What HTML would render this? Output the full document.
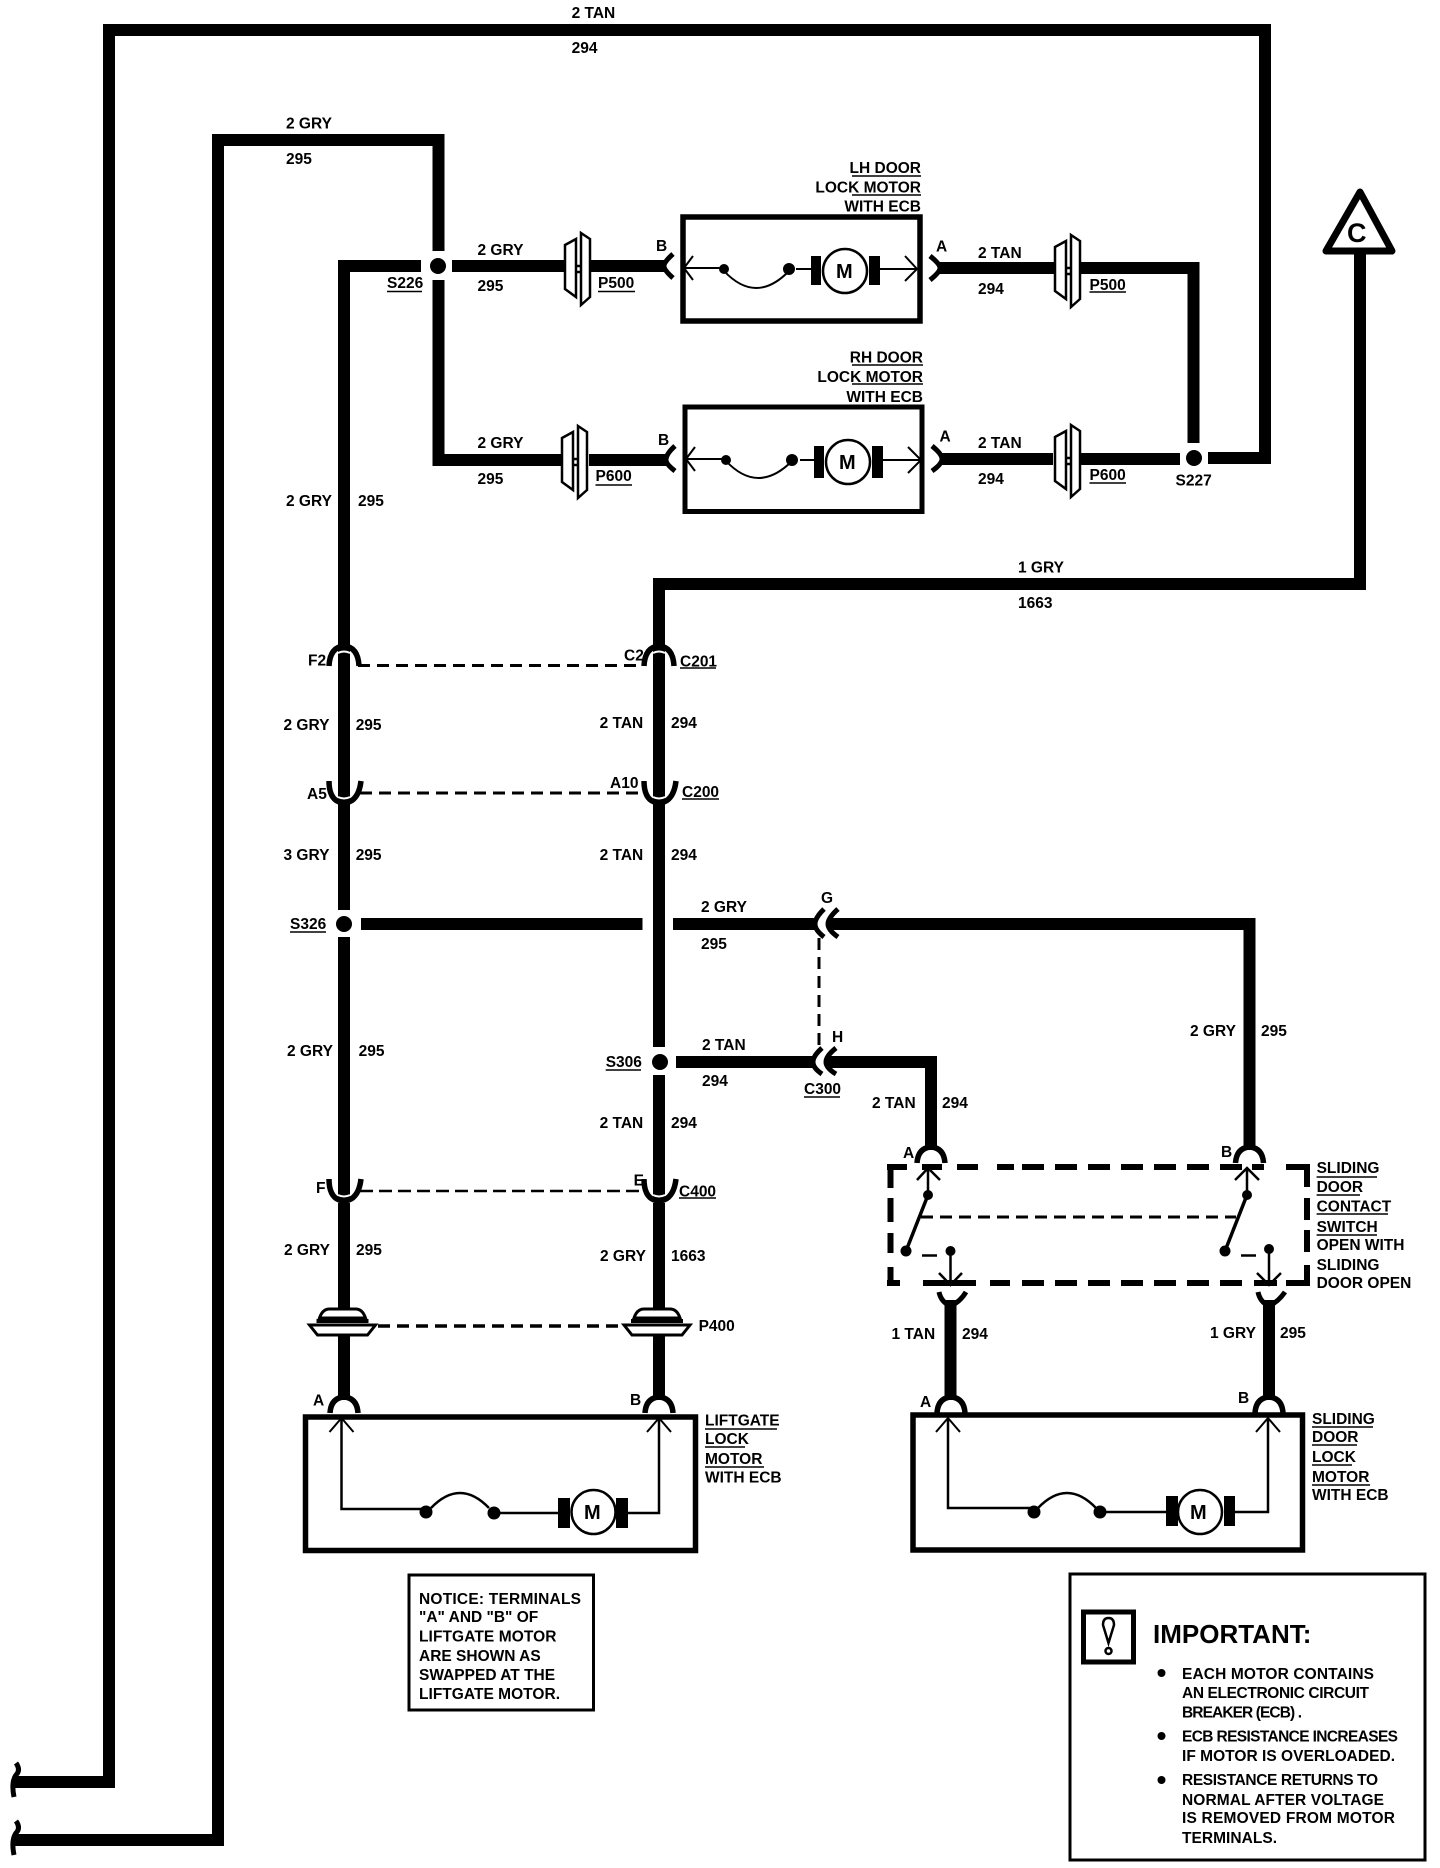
<!DOCTYPE html>
<html><head><meta charset="utf-8"><title>Door lock wiring diagram</title>
<style>html,body{margin:0;padding:0;background:#fff}svg{display:block}text{font-family:"Liberation Sans",sans-serif;font-weight:bold;font-size:15.5px;fill:#000}</style>
</head><body>
<svg xmlns="http://www.w3.org/2000/svg" width="1440" height="1868" viewBox="0 0 1440 1868">
<defs>
<g id="pc" fill="#fff" stroke="#000" stroke-width="2.5"><path d="M0,-24 L11,-30 V28 L0,20Z"/><path d="M16,-36 L25,-30 V28 L16,36Z"/><path d="M11,-3 H16 M11,3H16" fill="none"/></g>
<g id="cd" fill="none" stroke="#000" stroke-width="5.5"><path d="M-14,19 Q-13,4 0,3 Q13,4 14,19"/></g>
<g id="cf" fill="none"><path d="M-15,22 Q-14,3 0,2 Q14,3 15,22" stroke="#000" stroke-width="5.5"/><path d="M-6,9 Q0,6 6,9" stroke="#fff" stroke-width="2"/></g>
<g id="cu" fill="none"><path d="M-15,-3 Q-15,14 -5,18 Q0,20 5,18 Q15,14 17,-3" stroke="#000" stroke-width="5.5"/><path d="M-6,13 Q0,16 6,13" stroke="#fff" stroke-width="2"/></g>
<g id="gr" fill="#fff" stroke="#000" stroke-width="3"><path d="M-23,13 Q-20,4 -13,4 H13 Q20,4 23,13Z"/><path d="M-33,20 H33 L25,30 H-25Z"/><path d="M-26,16 H26" stroke-width="4"/></g>
<g id="ar" fill="none" stroke="#000" stroke-width="2"><path d="M-12,14 L0,0 L12,14 M0,0 V14"/></g>
</defs>
<rect width="1440" height="1868" fill="#fff"/>

<!-- wires -->
<g fill="none" stroke="#000" stroke-width="12" stroke-linejoin="miter">
<path d="M13,1782 H109 V30 H1265 V458 H1208"/>
<path d="M13,1840 H218 V140 H438.5 V251"/>
<path d="M438.5,280 V460 H562"/>
<path d="M421,266 H344 V660"/>
<path d="M452,266 H565"/>
<path d="M590,266 H664"/>
<path d="M589,460 H666"/>
<path d="M938,268 H1055"/>
<path d="M1081,268 H1193.5 V443"/>
<path d="M940,459 H1053"/>
<path d="M1081,459 H1180"/>
<path d="M344,660 V804"/><path d="M344,804 V910"/><path d="M344,937 V1202"/><path d="M344,1203 V1308"/><path d="M344,1336 V1400"/>
<path d="M659,1400 V1336"/><path d="M659,1308 V1203"/><path d="M659,1202 V1075"/><path d="M659,1047 V804"/><path d="M659,804 V660"/>
<path d="M659,660 V584 H1360 V253"/>
<path d="M361,924 H642.5"/><path d="M673,924 H816"/>
<path d="M830,924 H1249.5 V1150"/>
<path d="M676,1062 H814"/>
<path d="M827,1062 H931 V1150"/>
<path d="M950.5,1300 V1400"/><path d="M1269,1300 V1400"/>
</g>

<!-- end connectors bottom-left -->
<g fill="none" stroke="#000" stroke-width="5">
<path d="M16,1763 Q21,1770 16,1775 Q11,1782 14,1797"/>
<path d="M16,1821 Q21,1828 16,1833 Q11,1840 14,1855"/>
</g>

<!-- splices -->
<g fill="#000">
<circle cx="438" cy="266" r="8"/><circle cx="1194" cy="458" r="8"/><circle cx="344" cy="924" r="8"/><circle cx="660" cy="1062" r="8"/>
</g>

<!-- P connectors -->
<use href="#pc" x="565" y="269"/><use href="#pc" x="562" y="462"/><use href="#pc" x="1055" y="271"/><use href="#pc" x="1055" y="461"/>

<!-- side connectors B/A -->
<g fill="none" stroke="#000" stroke-width="5">
<path d="M673,254 Q664,262 664,266 Q664,270 673,278"/>
<path d="M675,446 Q666,454 666,460 Q666,464 675,471"/>
<path d="M930,256 Q940,264 940,268 Q940,272 930,280"/>
<path d="M932,446 Q942,454 942,459 Q942,464 932,471"/>
<path d="M824,909 Q815,918 815,924 Q815,930 824,937"/>
<path d="M838,909 Q828,918 828,924 Q828,930 838,937"/>
<path d="M822,1048 Q813,1056 813,1062 Q813,1068 822,1074"/>
<path d="M836,1048 Q826,1056 826,1062 Q826,1068 836,1074"/>
</g>

<!-- top and bottom connectors -->
<use href="#cf" x="344" y="644"/><use href="#cf" x="659" y="644"/>
<use href="#cu" x="344" y="784"/><use href="#cu" x="659" y="784"/><use href="#cu" x="344" y="1182"/><use href="#cu" x="659" y="1182"/>
<use href="#cd" x="344" y="1394"/><use href="#cd" x="659" y="1394"/><use href="#cd" x="951" y="1394"/><use href="#cd" x="1269" y="1394"/>
<use href="#cd" x="931" y="1144"/><use href="#cd" x="1249.5" y="1144"/>
<g fill="none" stroke="#000" stroke-width="5">
<path d="M939,1292 Q941,1302 950.5,1306 Q960,1302 966,1292"/>
<path d="M1258,1292 Q1260,1302 1269,1306 Q1278,1302 1285,1292"/>
</g>

<!-- dashed links -->
<g fill="none" stroke="#000" stroke-width="3" stroke-dasharray="12 7">
<path d="M358,665.5 H637"/><path d="M360,793 H648"/><path d="M819,938 V1047"/><path d="M921,1217 H1236"/>
</g>
<path d="M360,1191 H646" fill="none" stroke="#000" stroke-width="2.5" stroke-dasharray="13 6"/>
<path d="M378,1326 H623" fill="none" stroke="#000" stroke-width="3.5" stroke-dasharray="12 7"/>
<use href="#gr" x="342.5" y="1305"/><use href="#gr" x="657" y="1305"/>

<!-- triangle C -->
<path d="M1360,192 L1392,251 H1326Z" fill="#fff" stroke="#000" stroke-width="7" stroke-linejoin="round"/>
<text x="1347" y="242" style="font-size:27px">C</text>

<!-- LH motor -->
<g fill="none" stroke="#000">
<rect x="683" y="217" width="237" height="104" stroke-width="5.5"/>
<rect x="685" y="407" width="237" height="104.5" stroke-width="5"/>
<path d="M684,268 H724 M693,256 L684,268 L693,280 M796,269 H811 M880,269 H917 M905,256 L917,269 L905,281" stroke-width="2"/>
<path d="M724,271 Q756,305 789,271" stroke-width="2"/>
<circle cx="845" cy="271" r="22" stroke-width="2.5"/>
<path d="M686,459 H726 M695,447 L686,459 L695,471 M800,460 H814 M883,460 H921 M908,447 L921,460 L908,473" stroke-width="2"/>
<path d="M726,461 Q758,495 792,461" stroke-width="2"/>
<circle cx="848" cy="462" r="22" stroke-width="2.5"/>
</g>
<g fill="#000">
<circle cx="724" cy="269" r="5"/><circle cx="789" cy="269" r="6"/>
<rect x="811" y="256" width="10" height="29"/><rect x="869" y="256" width="11" height="29"/>
<circle cx="726" cy="460" r="5"/><circle cx="792" cy="460" r="6"/>
<rect x="814" y="446" width="10" height="32"/><rect x="872" y="446" width="11" height="32"/>
</g>
<text x="836" y="278" style="font-size:20px">M</text>
<text x="839" y="469" style="font-size:20px">M</text>

<!-- liftgate motor -->
<g fill="none" stroke="#000">
<rect x="305.5" y="1417" width="390" height="133.5" stroke-width="5.5"/>
<rect x="913" y="1415" width="389.5" height="135" stroke-width="5.5"/>
<path d="M341.5,1418 V1509 H426 M494,1513 H558 M628,1513 H659 V1418" stroke-width="2.5"/>
<path d="M431,1508 Q460,1478 489,1508" stroke-width="2.5"/>
<path d="M948,1418 V1508 H1034 M1100,1512 H1166 M1235,1512 H1268 V1418" stroke-width="2.5"/>
<path d="M1038,1508 Q1067,1478 1096,1508" stroke-width="2.5"/>
<circle cx="593.5" cy="1512" r="22" stroke-width="2.5"/>
<circle cx="1200" cy="1512" r="22" stroke-width="2.5"/>
</g>
<use href="#ar" x="341.5" y="1418"/><use href="#ar" x="659" y="1418"/><use href="#ar" x="948" y="1418"/><use href="#ar" x="1268" y="1418"/>
<g fill="#000">
<circle cx="426" cy="1512" r="6.5"/><circle cx="494" cy="1513" r="6.5"/><circle cx="1034" cy="1512" r="6.5"/><circle cx="1100" cy="1512" r="6.5"/>
<rect x="558" y="1498" width="12" height="30"/><rect x="616" y="1498" width="12" height="30"/>
<rect x="1166" y="1496" width="12" height="30"/><rect x="1224" y="1496" width="11" height="30"/>
</g>
<text x="584" y="1519" style="font-size:20px">M</text>
<text x="1190" y="1519" style="font-size:20px">M</text>

<!-- dashed switch box -->
<g fill="none" stroke="#000" stroke-width="6">
<path d="M887,1167 H907 M922,1167 H942 M957,1167 H978"/>
<path d="M1022,1167 H1044 M1055,1167 H1077 M1088,1167 H1110 M1121,1167 H1143 M1154,1167 H1176 M1187,1167 H1209 M1220,1167 H1242 M1252,1167 H1264 M1286,1167 H1310"/>
<path d="M997,1167 H1014"/>
<path d="M890.5,1164 V1188 M890.5,1198 V1222 M890.5,1233 V1253 M890.5,1267 V1286"/>
<path d="M1307,1164 V1187 M1307,1198 V1220 M1307,1230 V1252 M1307,1265 V1286"/>
<path d="M887,1283 H900 M923,1283 H976 M990,1283 H1010 M1022,1283 H1044 M1055,1283 H1077 M1088,1283 H1110 M1121,1283 H1143 M1154,1283 H1176 M1187,1283 H1209 M1220,1283 H1242 M1254,1283 H1277 M1286,1283 H1310"/>
</g>
<!-- switches -->
<g fill="none" stroke="#000" stroke-width="2.5">
<path d="M928,1170 V1195 M917,1180 L928,1168 L940,1180"/>
<path d="M928,1195 L906,1251" stroke-width="3.5"/>
<path d="M950.5,1251 V1285 M939,1273 L950.5,1285 L962,1273"/>
<path d="M922,1255.5 H937"/>
<path d="M1247,1170 V1195 M1235,1180 L1247,1168 L1259,1180"/>
<path d="M1247,1195 L1225,1251" stroke-width="3.5"/>
<path d="M1269,1249 V1285 M1257,1273 L1269,1285 L1281,1273"/>
<path d="M1241,1255.5 H1256"/>
</g>
<g fill="#000">
<circle cx="928" cy="1195" r="5"/><circle cx="906" cy="1251" r="5.5"/><circle cx="950.5" cy="1251" r="5"/>
<circle cx="1247" cy="1195" r="5"/><circle cx="1225" cy="1251" r="5.5"/><circle cx="1269" cy="1249" r="5"/>
</g>

<!-- notice and important boxes -->
<rect x="409" y="1575" width="184.5" height="135" fill="none" stroke="#000" stroke-width="3"/>
<rect x="1070" y="1574" width="355" height="286" fill="none" stroke="#000" stroke-width="3"/>
<rect x="1083.5" y="1612" width="50" height="50" fill="none" stroke="#000" stroke-width="5"/>
<path d="M1108.5,1643 L1103,1625 Q1103,1618 1108.5,1618 Q1114,1618 1114,1625Z" fill="none" stroke="#000" stroke-width="2.5"/>
<circle cx="1108.5" cy="1651" r="3" fill="none" stroke="#000" stroke-width="2.5"/>
<g fill="#000"><circle cx="1161.5" cy="1673" r="4"/><circle cx="1161.5" cy="1736" r="4"/><circle cx="1161.5" cy="1780" r="4"/></g>

<!-- underlines -->
<path fill="none" stroke="#000" stroke-width="1.5" d="M387,291.5H422 M598,291.5H635 M595.5,485H632 M852,176H921 M852,195H921 M852,365H923 M852,384H923 M1089.5,292H1126 M1089.5,483H1126 M680,668H716 M682,799H719 M290,932H326 M605.7,1070H641 M804,1097H840 M679,1198H716 M1316.6,1177H1377 M1316.6,1195H1360 M1316.6,1214H1388 M1316.6,1235H1377 M705,1429H777 M705,1447H745 M705,1467H764 M1312,1427H1373 M1312,1445H1357 M1312,1465H1352 M1312,1485H1370"/>

<!-- labels -->
<text x="571.6" y="18">2 TAN</text><text x="571.6" y="53">294</text>
<text x="286" y="128.5">2 GRY</text><text x="286" y="164">295</text>
<text x="477.5" y="255">2 GRY</text><text x="477.5" y="291">295</text>
<text x="387" y="288">S226</text><text x="598" y="288">P500</text>
<text x="477.5" y="448">2 GRY</text><text x="477.5" y="484">295</text>
<text x="595.5" y="481">P600</text>
<text x="656" y="251">B</text><text x="658" y="445">B</text>
<text x="286" y="506">2 GRY</text><text x="358" y="506">295</text>
<text x="921" y="173" text-anchor="end">LH DOOR</text>
<text x="921" y="192.5" text-anchor="end">LOCK MOTOR</text>
<text x="921" y="211.5" text-anchor="end">WITH ECB</text>
<text x="923" y="362.5" text-anchor="end">RH DOOR</text>
<text x="923" y="382" text-anchor="end">LOCK MOTOR</text>
<text x="923" y="402" text-anchor="end">WITH ECB</text>
<text x="936" y="251.5">A</text><text x="939.5" y="441.5">A</text>
<text x="978" y="258">2 TAN</text><text x="978" y="294">294</text>
<text x="1089.5" y="290">P500</text>
<text x="978" y="448">2 TAN</text><text x="978" y="484">294</text>
<text x="1089.5" y="480">P600</text><text x="1175.5" y="485.5">S227</text>
<text x="1018" y="572.5">1 GRY</text><text x="1018" y="608">1663</text>
<text x="308" y="665.5">F2</text><text x="624" y="660.5">C2</text><text x="680" y="666.5">C201</text>
<text x="283.5" y="730">2 GRY</text><text x="355.7" y="730">295</text>
<text x="599.6" y="728">2 TAN</text><text x="671" y="728">294</text>
<text x="307" y="799">A5</text><text x="610" y="788">A10</text><text x="682" y="797">C200</text>
<text x="283.5" y="860">3 GRY</text><text x="355.7" y="860">295</text>
<text x="599.6" y="860">2 TAN</text><text x="671" y="860">294</text>
<text x="290" y="929">S326</text>
<text x="701" y="912">2 GRY</text><text x="701" y="949">295</text><text x="821" y="903">G</text>
<text x="287" y="1056">2 GRY</text><text x="358.6" y="1056">295</text>
<text x="605.7" y="1067">S306</text>
<text x="702" y="1050">2 TAN</text><text x="702" y="1086">294</text>
<text x="832" y="1042">H</text><text x="804" y="1094">C300</text>
<text x="599.6" y="1128">2 TAN</text><text x="671" y="1128">294</text>
<text x="872" y="1108">2 TAN</text><text x="942" y="1108">294</text>
<text x="1190" y="1036">2 GRY</text><text x="1261" y="1036">295</text>
<text x="316" y="1193">F</text><text x="633.6" y="1185.5">E</text><text x="679" y="1196.5">C400</text>
<text x="284" y="1255">2 GRY</text><text x="356" y="1255">295</text>
<text x="600" y="1261">2 GRY</text><text x="671" y="1261">1663</text>
<text x="698.6" y="1331">P400</text>
<text x="903" y="1158">A</text><text x="1221" y="1157">B</text>
<text x="1316.6" y="1173">SLIDING</text><text x="1316.6" y="1192">DOOR</text><text x="1316.6" y="1211.5">CONTACT</text><text x="1316.6" y="1232">SWITCH</text><text x="1316.6" y="1250">OPEN WITH</text><text x="1316.6" y="1270">SLIDING</text><text x="1316.6" y="1288">DOOR OPEN</text>
<text x="891.5" y="1339">1 TAN</text><text x="962" y="1339">294</text>
<text x="1210" y="1338">1 GRY</text><text x="1280" y="1338">295</text>
<text x="313" y="1405.5">A</text><text x="630" y="1405">B</text>
<text x="920" y="1407">A</text><text x="1238" y="1403">B</text>
<text x="705" y="1425.5">LIFTGATE</text><text x="705" y="1444">LOCK</text><text x="705" y="1464">MOTOR</text><text x="705" y="1482.5">WITH ECB</text>
<text x="1312" y="1424">SLIDING</text><text x="1312" y="1442">DOOR</text><text x="1312" y="1462">LOCK</text><text x="1312" y="1482">MOTOR</text><text x="1312" y="1500">WITH ECB</text>
<text x="419" y="1604" textLength="162">NOTICE: TERMINALS</text>
<text x="419" y="1622">"A" AND "B" OF</text>
<text x="419" y="1641.5" textLength="137.5">LIFTGATE MOTOR</text>
<text x="419" y="1661">ARE SHOWN AS</text>
<text x="419" y="1680">SWAPPED AT THE</text>
<text x="419" y="1699" textLength="141">LIFTGATE MOTOR.</text>
<text x="1153" y="1643" style="font-size:26px">IMPORTANT:</text>
<text x="1182" y="1679" textLength="192">EACH MOTOR CONTAINS</text>
<text x="1182" y="1698" textLength="187">AN ELECTRONIC CIRCUIT</text>
<text x="1182" y="1717.5" textLength="120">BREAKER (ECB) .</text>
<text x="1182" y="1741.5" textLength="216">ECB RESISTANCE INCREASES</text>
<text x="1182" y="1761" textLength="213">IF MOTOR IS OVERLOADED.</text>
<text x="1182" y="1785" textLength="196">RESISTANCE RETURNS TO</text>
<text x="1182" y="1805" textLength="202">NORMAL AFTER VOLTAGE</text>
<text x="1182" y="1823" textLength="213">IS REMOVED FROM MOTOR</text>
<text x="1182" y="1843" textLength="95">TERMINALS.</text>
</svg>
</body></html>
